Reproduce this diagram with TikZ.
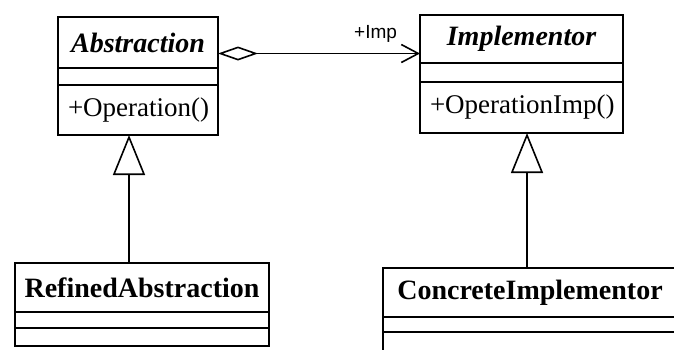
\documentclass[tikz,border=0pt]{standalone}
\usepackage{fontspec}
\setmainfont{Liberation Serif}
\newfontfamily\rolefont{Liberation Sans}
\usetikzlibrary{arrows.meta, positioning}

\tikzset{
  namebox/.style={draw, inner sep=0pt, outer sep=0pt, font=\fontsize{28}{30}\selectfont\bfseries},
  abstract/.style={font=\fontsize{28}{30}\selectfont\bfseries\itshape},
  attrbox/.style={draw, inner sep=0pt, outer sep=0pt},
  opbox/.style={draw, inner ysep=0pt, inner xsep=10pt, outer sep=0pt, text width=#1, align=left,
    font=\fontsize{27}{30}\selectfont},
}

\begin{document}
\begin{tikzpicture}[x=1pt, y=-1pt, line width=1.6pt]
    \useasboundingbox (0,0) rectangle (674,349);
    \clip (0,0) rectangle (674,349);

    % Abstraction
    \node[namebox, abstract, minimum width=160pt, minimum height=51pt, anchor=north west] (absname) at (58,17) {Abstraction};
    \node[attrbox, minimum width=160pt, minimum height=17pt, below=0pt of absname] (absattr) {};
    \node[opbox=140pt, minimum height=50pt, below=0pt of absattr] (absop) {+Operation()};

    % Implementor
    \node[namebox, abstract, minimum width=203pt, minimum height=48pt, anchor=north west] (impname) at (420,15) {Implementor};
    \node[attrbox, minimum width=203pt, minimum height=19pt, below=0pt of impname] (impattr) {};
    \node[opbox=183pt, minimum height=51pt, below=0pt of impattr] (impop) {+OperationImp()};

    % RefinedAbstraction
    \node[namebox, minimum width=254pt, minimum height=49pt, anchor=north west] (refname) at (15,263) {RefinedAbstraction};
    \node[attrbox, minimum width=254pt, minimum height=16pt, below=0pt of refname] (refattr) {};
    \node[attrbox, minimum width=254pt, minimum height=18pt, below=0pt of refattr] (refop) {};

    % ConcreteImplementor (cut off at the right and bottom)
    \node[namebox, minimum width=294pt, minimum height=49pt, anchor=north west] (conname) at (383,268) {ConcreteImplementor};
    \node[attrbox, minimum width=294pt, minimum height=15pt, below=0pt of conname] (conattr) {};
    \node[attrbox, minimum width=294pt, minimum height=40pt, below=0pt of conattr] (conop) {};

    % Aggregation
    \coordinate (aggr) at ([yshift=-11pt]absname.east);
    \draw[{Diamond[open, length=40pt, width=14pt]}-{Straight Barb[length=17pt, width=18pt]}]
        (aggr) -- (aggr -| impname.west) node[pos=0.78, above=7pt, font=\rolefont\fontsize{19}{20}\selectfont] (role) {+Imp};

    % Generalizations
    \coordinate (absbase) at ([xshift=-9pt]absop.south);
    \coordinate (impbase) at ([xshift=5.5pt]impop.south);
    \draw[{Triangle[open, length=40pt, width=32pt]}-] (absbase) -- (absbase |- refname.north);
    \draw[{Triangle[open, length=40pt, width=32pt]}-] (impbase) -- (impbase |- conname.north);
\end{tikzpicture}
\end{document}
